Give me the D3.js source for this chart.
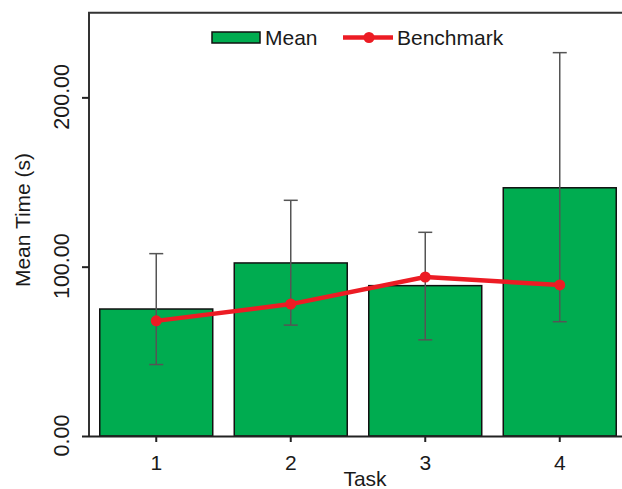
<!DOCTYPE html>
<html>
<head>
<meta charset="utf-8">
<script src="https://cdn.jsdelivr.net/npm/d3@7"></script>
<style>
  html, body { margin: 0; padding: 0; background: #fff; }
  svg { display: block; font-family: "Liberation Sans", Arial, sans-serif; }
</style>
</head>
<body>
<svg id="chart" width="622" height="489"></svg>
<script>
const tasks = ["1", "2", "3", "4"];
const meanValues = [75.0, 102.2, 88.8, 146.6];
const errUpper = [107.7, 139.2, 120.3, 226.4];
const errLower = [42.2, 65.5, 56.8, 67.5];
const benchmarkValues = [68.0, 77.9, 93.9, 89.2];
const yTicks = [0, 100, 200];
const yTickLabels = ["0.00", "100.00", "200.00"];

const svg = d3.select("#chart");
const plotLeft = 89, plotRight = 627, plotTop = 12.7, plotBottom = 436;

const x = d3.scaleBand().domain(tasks).range([plotLeft, plotRight])
  .paddingInner(0.16).paddingOuter(0.08);
const y = d3.scaleLinear().domain([0, 250]).range([plotBottom, plotTop]);

const green = "#00ac50";
const red = "#ec1c24";
const txt = "#1a1a1a";

// bars
svg.append("g").selectAll("rect").data(tasks).join("rect")
  .attr("x", d => x(d))
  .attr("y", (d, i) => y(meanValues[i]))
  .attr("width", x.bandwidth())
  .attr("height", (d, i) => y(0) - y(meanValues[i]))
  .attr("fill", green)
  .attr("stroke", "#111")
  .attr("stroke-width", 1.5);

// error bars
const eg = svg.append("g").attr("stroke", "#555").attr("stroke-width", 1.5);
tasks.forEach((d, i) => {
  const cx = x(d) + x.bandwidth() / 2;
  eg.append("line").attr("x1", cx).attr("x2", cx)
    .attr("y1", y(errUpper[i])).attr("y2", y(errLower[i]));
  eg.append("line").attr("x1", cx - 7).attr("x2", cx + 7)
    .attr("y1", y(errUpper[i])).attr("y2", y(errUpper[i]));
  eg.append("line").attr("x1", cx - 7).attr("x2", cx + 7)
    .attr("y1", y(errLower[i])).attr("y2", y(errLower[i]));
});

// benchmark line
const line = d3.line()
  .x((d, i) => x(tasks[i]) + x.bandwidth() / 2)
  .y(d => y(d));
svg.append("path").datum(benchmarkValues)
  .attr("d", line)
  .attr("fill", "none")
  .attr("stroke", red)
  .attr("stroke-width", 4.5)
  .attr("stroke-linejoin", "round");
svg.append("g").selectAll("circle").data(benchmarkValues).join("circle")
  .attr("cx", (d, i) => x(tasks[i]) + x.bandwidth() / 2)
  .attr("cy", d => y(d))
  .attr("r", 5.5)
  .attr("fill", red);

// frame (left and top)
svg.append("path")
  .attr("d", `M${plotLeft},${plotBottom}V${plotTop}H${plotRight}`)
  .attr("fill", "none").attr("stroke", "#333").attr("stroke-width", 2);
// bottom axis line
svg.append("line")
  .attr("x1", plotLeft).attr("x2", plotRight)
  .attr("y1", plotBottom + 0.5).attr("y2", plotBottom + 0.5)
  .attr("stroke", "#222").attr("stroke-width", 2);

// y axis ticks
const yAxis = svg.append("g").attr("transform", `translate(${plotLeft},0)`)
  .call(d3.axisLeft(y).tickValues(yTicks).tickSize(7).tickFormat((d, i) => yTickLabels[i]));
yAxis.select(".domain").remove();
yAxis.selectAll(".tick line").attr("stroke", "#222").attr("stroke-width", 2);
yAxis.selectAll(".tick text")
  .attr("font-size", 21.5)
  .attr("fill", txt)
  .attr("x", null).attr("dy", null)
  .attr("text-anchor", "middle")
  .attr("transform", "translate(-20,-1) rotate(-90)")
  .attr("y", 0);

// x axis ticks
const xAxis = svg.append("g").attr("transform", `translate(0,${plotBottom})`)
  .call(d3.axisBottom(x).tickSize(6).tickPadding(4));
xAxis.select(".domain").remove();
xAxis.selectAll(".tick line").attr("stroke", "#222").attr("stroke-width", 2);
xAxis.selectAll(".tick text").attr("font-size", 21).attr("fill", txt)
  .attr("dy", null).attr("y", 34);

// axis titles
svg.append("text").attr("x", 365).attr("y", 486)
  .attr("text-anchor", "middle").attr("font-size", 21).attr("fill", txt)
  .text("Task");
svg.append("text")
  .attr("transform", "translate(30,220) rotate(-90)")
  .attr("text-anchor", "middle").attr("font-size", 21).attr("fill", txt)
  .text("Mean Time (s)");

// legend
const lg = svg.append("g");
lg.append("rect").attr("x", 212).attr("y", 32).attr("width", 48).attr("height", 11)
  .attr("fill", green).attr("stroke", "#111").attr("stroke-width", 1.5);
lg.append("text").attr("x", 265).attr("y", 45).attr("font-size", 21).attr("fill", txt).text("Mean");
lg.append("line").attr("x1", 343).attr("x2", 393).attr("y1", 37.5).attr("y2", 37.5)
  .attr("stroke", red).attr("stroke-width", 4.5);
lg.append("circle").attr("cx", 369).attr("cy", 37.5).attr("r", 5.5).attr("fill", red);
lg.append("text").attr("x", 397).attr("y", 45).attr("font-size", 21).attr("fill", txt).text("Benchmark");
</script>
</body>
</html>
